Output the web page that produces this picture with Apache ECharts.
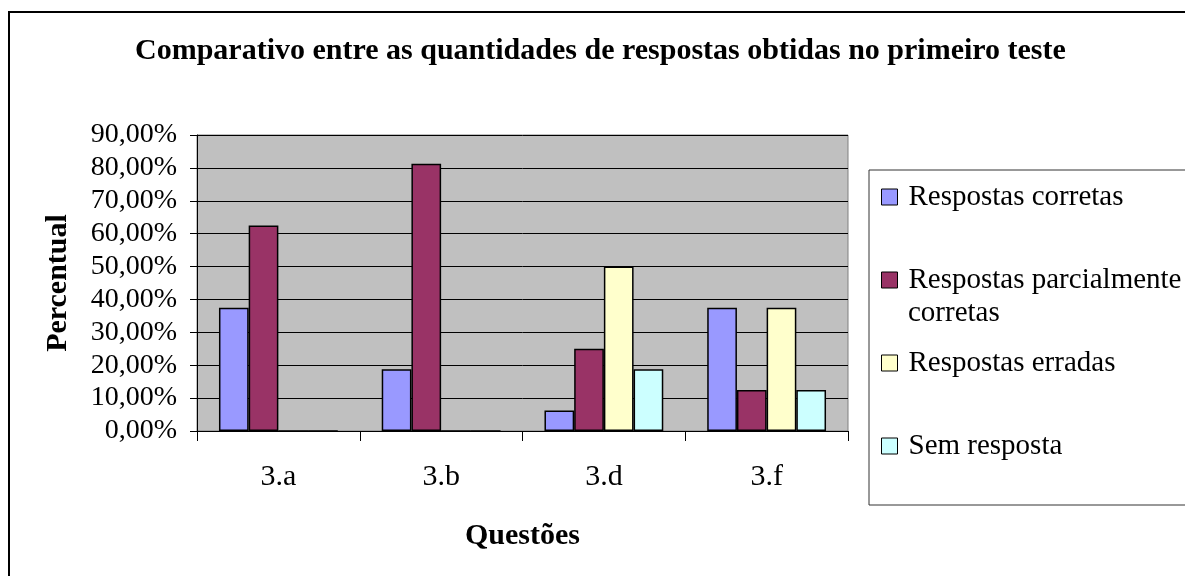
<!DOCTYPE html>
<html>
<head>
<meta charset="utf-8">
<script src="https://cdn.jsdelivr.net/npm/echarts@6/dist/echarts.min.js"></script>
<style>
  html, body { margin: 0; padding: 0; background: #fff; }
  #chart { width: 1185px; height: 576px; }
</style>
</head>
<body>
<div id="chart"></div>
<script>
// dados do gráfico
var questoes = ['3.a', '3.b', '3.d', '3.f'];
var corretas = [37.5, 18.75, 6.25, 37.5];
var parciais = [62.5, 81.25, 25, 12.5];
var erradas = [0, 0, 50, 37.5];
var semResposta = [0, 0, 18.75, 12.5];
var nomesSeries = ['Respostas corretas', 'Respostas parcialmente', 'Respostas erradas', 'Sem resposta'];
var cores = ['#9999FF', '#993366', '#FFFFCC', '#CCFFFF'];

var fonte = '"Liberation Serif", "Times New Roman", serif';
var myChart = echarts.init(document.getElementById('chart'));

function serie(nome, dados, cor) {
    return {
        name: nome,
        type: 'bar',
        data: dados,
        barGap: '0%',
        barCategoryGap: '27%',
        itemStyle: { color: cor, borderColor: '#000', borderWidth: 1.5 }
    };
}

var option = {
    backgroundColor: '#fff',
    animation: false,
    title: {
        text: 'Comparativo entre as quantidades de respostas obtidas no primeiro teste',
        left: 130,
        top: 31,
        textStyle: { fontFamily: fonte, fontSize: 30, fontWeight: 'bold', color: '#000' }
    },
    grid: {
        left: 197, top: 135, width: 651, height: 296,
        show: true,
        backgroundColor: '#C0C0C0',
        borderColor: '#808080',
        borderWidth: 1
    },
    legend: {
        orient: 'vertical',
        left: 876,
        top: 176,
        itemWidth: 16,
        itemHeight: 16,
        itemGap: 51,
        icon: 'rect',
        itemStyle: { borderColor: '#000', borderWidth: 1 },
        textStyle: { fontFamily: fonte, fontSize: 29, color: '#000', lineHeight: 32, padding: [0, 0, 0, 6] },
        data: nomesSeries
    },
    xAxis: {
        type: 'category',
        data: questoes,
        name: 'Questões',
        nameLocation: 'middle',
        nameGap: 90,
        nameTextStyle: { fontFamily: fonte, fontSize: 30, fontWeight: 'bold', color: '#000' },
        axisLine: { lineStyle: { color: '#000', width: 1 } },
        axisTick: { show: true, length: 10, lineStyle: { color: '#000' } },
        axisLabel: { fontFamily: fonte, fontSize: 30, color: '#000', margin: 31 }
    },
    yAxis: {
        type: 'value',
        min: 0,
        max: 90,
        interval: 10,
        name: 'Percentual',
        nameLocation: 'middle',
        nameGap: 124,
        nameTextStyle: { fontFamily: fonte, fontSize: 30, fontWeight: 'bold', color: '#000' },
        axisLine: { show: true, lineStyle: { color: '#000', width: 1 } },
        axisTick: { show: true, length: 7, lineStyle: { color: '#000' } },
        splitLine: { lineStyle: { color: '#000', width: 1 } },
        axisLabel: {
            fontFamily: fonte, fontSize: 28, color: '#000', margin: 20,
            formatter: function (v) { return v.toFixed(2).replace('.', ',') + '%'; }
        }
    },
    graphic: [
        // moldura externa
        { type: 'rect', shape: { x: 9, y: 12, width: 1300, height: 700 },
          style: { fill: 'none', stroke: '#000', lineWidth: 2 }, silent: true },
        // caixa da legenda
        { type: 'rect', shape: { x: 869, y: 170, width: 400, height: 335 },
          style: { fill: 'none', stroke: '#333', lineWidth: 1 }, silent: true },
        // segunda linha do nome da série
        { type: 'text', left: 908, top: 299,
          style: { text: 'corretas', font: '29px ' + fonte, fill: '#000' } }
    ],
    series: [
        serie(nomesSeries[0], corretas, cores[0]),
        serie(nomesSeries[1], parciais, cores[1]),
        serie(nomesSeries[2], erradas, cores[2]),
        serie(nomesSeries[3], semResposta, cores[3])
    ]
};
myChart.setOption(option);
</script>
</body>
</html>
